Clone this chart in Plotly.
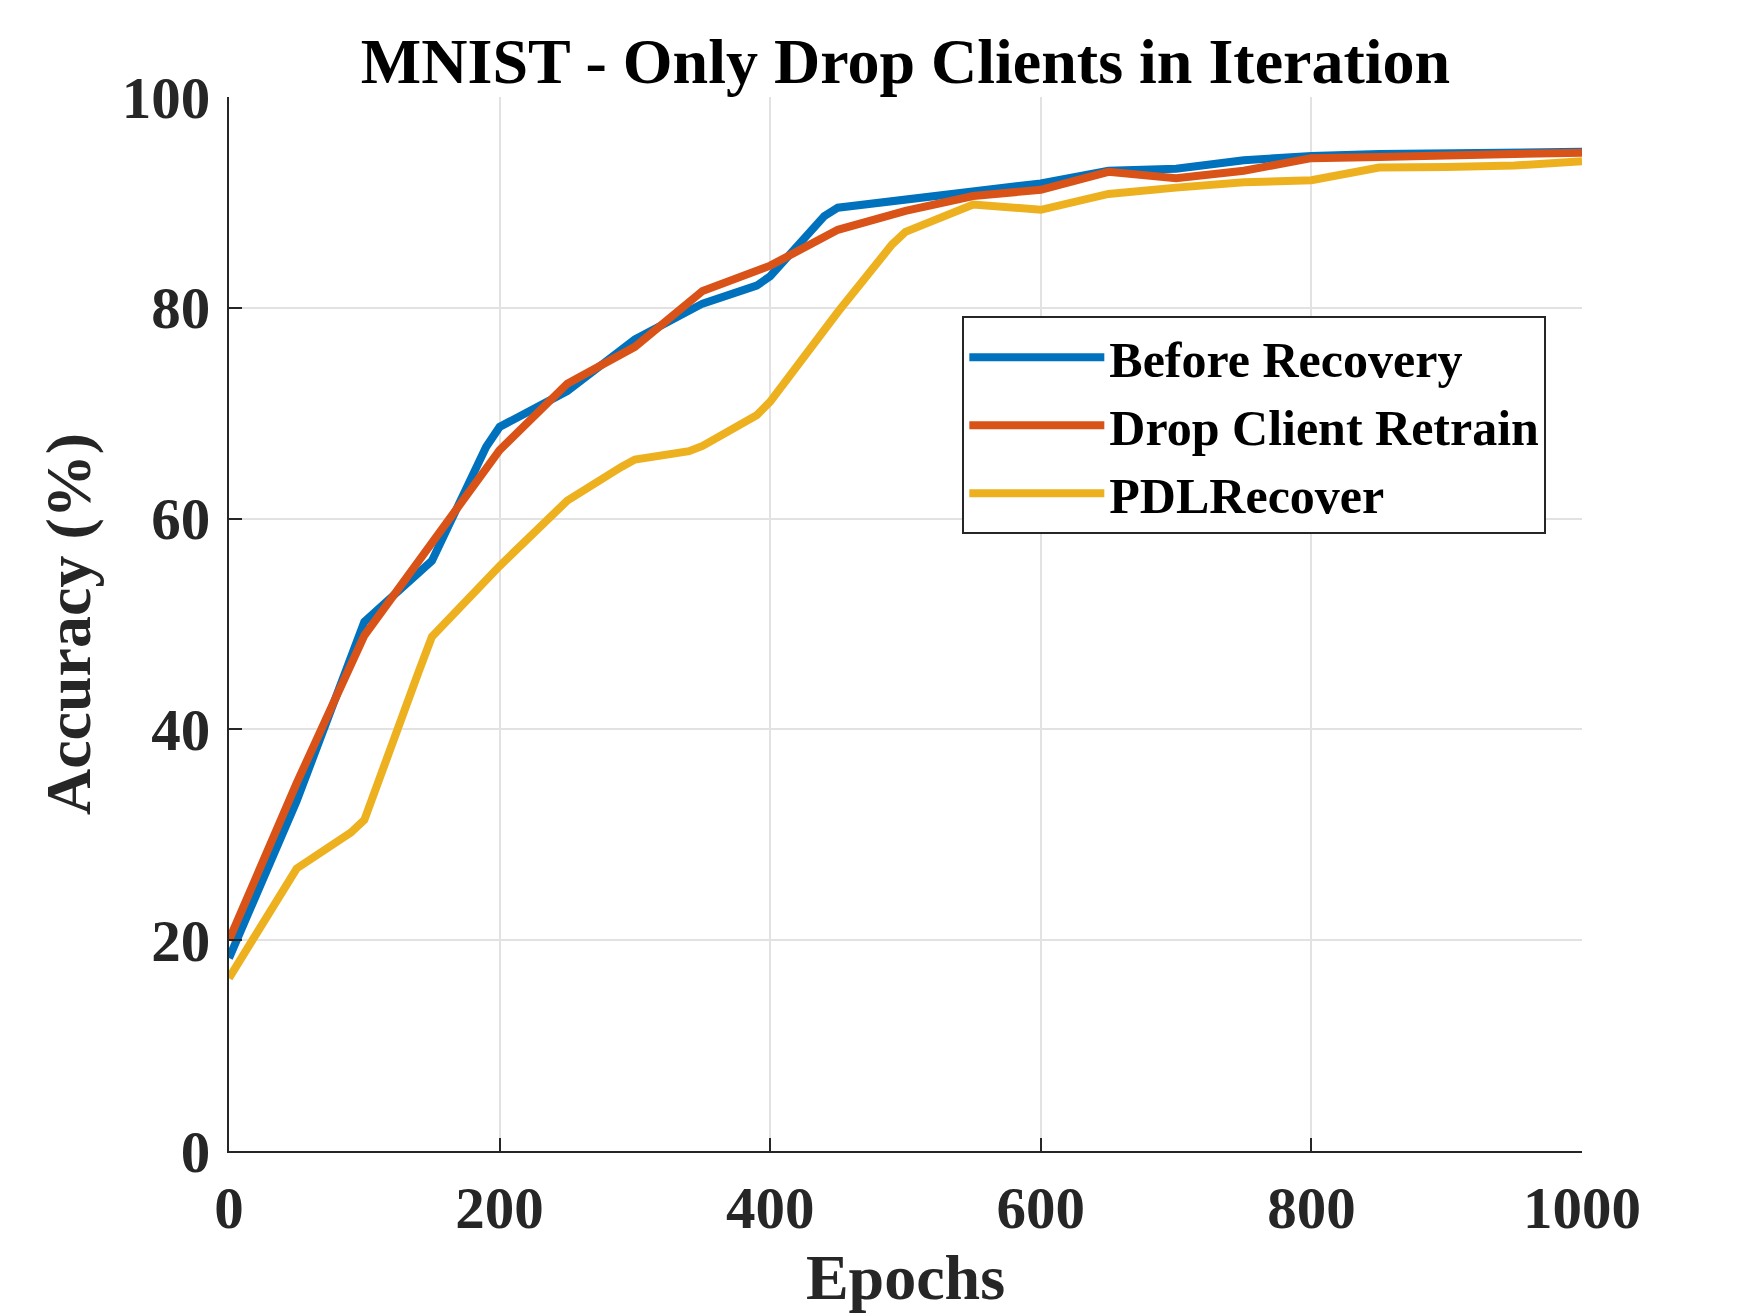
import plotly.graph_objects as go

# ---- data ----
before_epochs = [0, 50, 100, 150, 190, 200, 250, 300, 350, 390, 400, 440, 450,
                 500, 550, 600, 650, 700, 750, 800, 850, 900, 950, 1000]
before_acc = [18.3, 33.2, 50.2, 56.0, 66.8, 68.7, 72.1, 77.0, 80.4, 82.1, 83.0, 88.7, 89.5,
              90.3, 91.1, 91.8, 93.0, 93.2, 94.0, 94.4, 94.6, 94.7, 94.75, 94.8]

retrain_epochs = [0, 50, 100, 150, 200, 250, 300, 350, 400, 450, 500, 550, 600, 650,
                  700, 750, 800, 850, 900, 950, 1000]
retrain_acc = [20.0, 34.9, 48.9, 57.7, 66.5, 72.8, 76.3, 81.6, 84.0, 87.4, 89.2, 90.6, 91.2, 92.9,
               92.3, 93.0, 94.2, 94.3, 94.5, 94.6, 94.7]

pdl_epochs = [0, 50, 90, 100, 140, 150, 200, 240, 250, 290, 300, 340, 350, 390, 400, 450,
              490, 500, 550, 600, 650, 700, 750, 800, 850, 900, 950, 1000]
pdl_acc = [16.4, 26.8, 30.2, 31.4, 45.4, 48.8, 55.5, 60.5, 61.7, 64.9, 65.6, 66.4, 66.9, 69.8, 71.1, 79.6,
           86.0, 87.2, 89.8, 89.3, 90.8, 91.4, 91.9, 92.1, 93.3, 93.35, 93.5, 93.9]

series_names = ["Before Recovery", "Drop Client Retrain", "PDLRecover"]
series_colors = ["#0072BD", "#D95319", "#EDB120"]

x_ticks = [0, 200, 400, 600, 800, 1000]
y_ticks = [0, 20, 40, 60, 80, 100]

FONT = "Liberation Serif"
AXIS_COLOR = "#262626"

fig = go.Figure()
for name, xs, ys, col in zip(series_names,
                             [before_epochs, retrain_epochs, pdl_epochs],
                             [before_acc, retrain_acc, pdl_acc],
                             series_colors):
    fig.add_trace(go.Scatter(x=xs, y=ys, mode="lines", name=name,
                             line=dict(color=col, width=8)))

axis_common = dict(
    showline=True, linecolor=AXIS_COLOR, linewidth=2,
    ticks="inside", ticklen=13, tickwidth=2, tickcolor=AXIS_COLOR,
    showgrid=True, gridcolor="#e2e2e2", gridwidth=2,
    zeroline=False, mirror=False,
    tickfont=dict(family=FONT, size=59, color=AXIS_COLOR, weight="bold"),
)

fig.update_layout(
    width=1750, height=1313,
    paper_bgcolor="white", plot_bgcolor="white",
    margin=dict(l=229, r=168, t=97, b=162, autoexpand=False),
    title=dict(text="<b>MNIST - Only Drop Clients in Iteration</b>",
               x=0.5, xref="paper", xanchor="center",
               y=1 - 61 / 1313, yref="container", yanchor="middle",
               font=dict(family=FONT, size=64, color="black")),
    xaxis=dict(range=[0, 1000], tickvals=x_ticks, ticklabelstandoff=4,
               title=dict(text="<b>Epochs</b>", standoff=16,
                          font=dict(family=FONT, size=64, color=AXIS_COLOR)),
               **axis_common),
    yaxis=dict(range=[0, 100], tickvals=y_ticks, ticklabelstandoff=5,
               title=dict(text="<b>Accuracy (%)</b>", standoff=10,
                          font=dict(family=FONT, size=64, color=AXIS_COLOR)),
               **axis_common),
    legend=dict(x=0.542, y=0.792, xanchor="left", yanchor="top",
                bgcolor="white", bordercolor=AXIS_COLOR, borderwidth=2,
                itemwidth=135,
                font=dict(family=FONT, size=50, color="black", weight="bold")),
    showlegend=True,
)

fig.write_html("out.html", config={"displayModeBar": False},
               post_script="document.body.style.margin='0';")
